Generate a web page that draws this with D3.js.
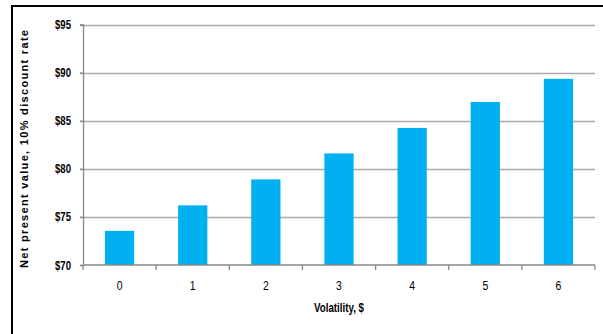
<!DOCTYPE html>
<html>
<head>
<meta charset="utf-8">
<script src="https://cdn.jsdelivr.net/npm/d3@7"></script>
<style>
  body { margin: 0; background: #fff; }
  svg { display: block; }
  text { font-family: "Liberation Sans", Arial, sans-serif; }
</style>
</head>
<body>
<div id="chart"></div>
<script>
var width = 603;
var height = 334;

// data
var volatility = ["0", "1", "2", "3", "4", "5", "6"];
var npv = [73.55, 76.2, 78.9, 81.6, 84.25, 86.95, 89.35];
var yTicks = [70, 75, 80, 85, 90, 95];

var margin = { top: 24.5, right: 8, bottom: 69, left: 83 };

var svg = d3.select("#chart")
    .append("svg")
    .attr("width", width)
    .attr("height", height);

// outer frame (runs off the right and bottom of the picture)
svg.append("rect")
    .attr("x", 12)
    .attr("y", 6)
    .attr("width", 700)
    .attr("height", 400)
    .attr("fill", "none")
    .attr("stroke", "#000")
    .attr("stroke-width", 2);

var x = d3.scaleBand()
    .domain(volatility)
    .range([margin.left, width - margin.right])
    .paddingInner(0.6)
    .paddingOuter(0.3);

var y = d3.scaleLinear()
    .domain([70, 95])
    .range([height - margin.bottom, margin.top]);

// gridlines
svg.append("g")
    .selectAll("line")
    .data(yTicks.slice(1))
    .enter()
    .append("line")
    .attr("x1", margin.left - 3)
    .attr("x2", width - margin.right)
    .attr("y1", function(d) { return Math.round(y(d)) + 0.5; })
    .attr("y2", function(d) { return Math.round(y(d)) + 0.5; })
    .attr("stroke", "#aaaaaa")
    .attr("stroke-width", 1.3);

// bars
svg.append("g")
    .selectAll("rect")
    .data(npv)
    .enter()
    .append("rect")
    .attr("x", function(d, i) { return x(volatility[i]); })
    .attr("y", function(d) { return y(d); })
    .attr("width", x.bandwidth())
    .attr("height", function(d) { return y(70) - y(d); })
    .attr("fill", "#00b0f0");

// y axis
var yAxis = svg.append("g")
    .attr("transform", "translate(" + margin.left + ",0)")
    .call(d3.axisLeft(y).tickValues(yTicks).tickSize(3).tickFormat(function(d) { return "$" + d; }));
yAxis.select(".domain").attr("stroke", "#888").attr("stroke-width", 1.3);
yAxis.selectAll(".tick line").attr("stroke", "#888").attr("stroke-width", 1.3);
yAxis.selectAll(".tick text")
    .attr("x", -12)
    .attr("fill", "#000")
    .attr("textLength", 16)
    .attr("lengthAdjust", "spacingAndGlyphs")
    .style("font-family", "'Liberation Sans', Arial, sans-serif")
    .style("font-size", "12.5px")
    .style("font-weight", "bold");

// x axis, ticks sit between categories
var step = x.step();
var xg = svg.append("g")
    .attr("transform", "translate(0," + y(70) + ")");
xg.append("line")
    .attr("x1", margin.left)
    .attr("x2", width - margin.right)
    .attr("stroke", "#888")
    .attr("stroke-width", 1.3);
xg.selectAll(".xtick")
    .data(d3.range(volatility.length + 1))
    .enter()
    .append("line")
    .attr("x1", function(i) { return margin.left + i * step; })
    .attr("x2", function(i) { return margin.left + i * step; })
    .attr("y1", 0)
    .attr("y2", 5)
    .attr("stroke", "#888")
    .attr("stroke-width", 1.3);
xg.selectAll(".xlab")
    .data(volatility)
    .enter()
    .append("text")
    .attr("x", function(d) { return x(d) + x.bandwidth() / 2; })
    .attr("y", 25)
    .attr("text-anchor", "middle")
    .attr("textLength", 5.8)
    .attr("lengthAdjust", "spacingAndGlyphs")
    .style("font-size", "12.5px")
    .text(function(d) { return d; });

// axis titles
svg.append("text")
    .attr("x", (margin.left + width - margin.right) / 2)
    .attr("y", 312)
    .attr("text-anchor", "middle")
    .attr("textLength", 50)
    .attr("lengthAdjust", "spacingAndGlyphs")
    .style("font-size", "12.5px")
    .style("font-weight", "bold")
    .text("Volatility, $");

svg.append("text")
    .attr("transform", "translate(28,149) rotate(-90)")
    .attr("text-anchor", "middle")
    .attr("textLength", 238)
    .attr("lengthAdjust", "spacing")
    .style("font-size", "11px")
    .style("font-weight", "bold")
    .text("Net present value, 10% discount rate");
</script>
</body>
</html>
